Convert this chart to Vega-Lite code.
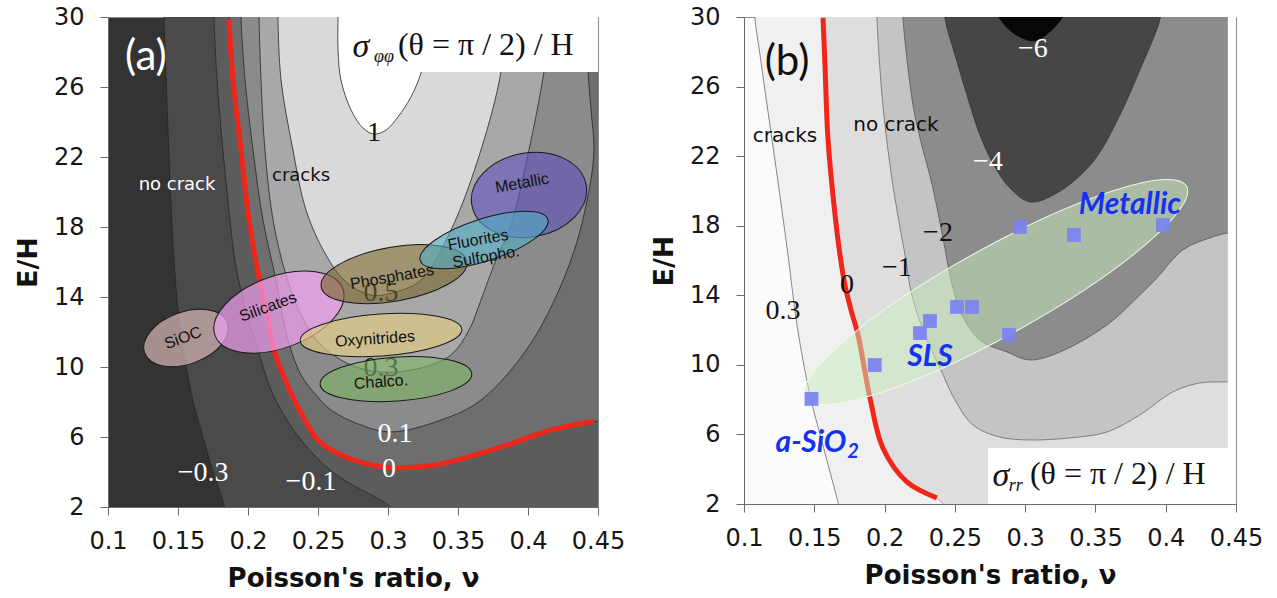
{
 "$schema": "https://vega.github.io/schema/vega-lite/v6.json",
 "background": "#ffffff",
 "padding": {"left": 13, "top": 4, "right": 8, "bottom": 4},
 "spacing": 23,
 "config": {
  "view": {"stroke": "#8a8a8a"},
  "axis": {"grid": false, "labelFont": "DejaVu Sans", "labelFontSize": 24, "labelColor": "#161616", "titleFont": "DejaVu Sans", "titleFontSize": 26, "titleFontWeight": "bold", "titleColor": "#111111", "domainColor": "#6a6a6a", "tickColor": "#6a6a6a", "tickSize": 8, "labelFlush": false, "labelOverlap": false},
  "axisX": {"labelPadding": 14, "titlePadding": 12},
  "axisY": {"labelPadding": 16, "titlePadding": 11, "titleFontSize": 27}
 },
 "datasets": {
  "a1": [{"x":0.14,"y":31},{"x":0.14,"y":29.94},{"x":0.1421,"y":25.26},{"x":0.1443,"y":20.69},{"x":0.1471,"y":16.11},{"x":0.1507,"y":12.69},{"x":0.1557,"y":10.11},{"x":0.1614,"y":7.83},{"x":0.1664,"y":6.4},{"x":0.1736,"y":4.4},{"x":0.1829,"y":2.11},{"x":0.185,"y":1.2},{"x":0.46,"y":1.2},{"x":0.46,"y":31}],
  "a2": [{"x":0.1757,"y":31},{"x":0.1757,"y":29.94},{"x":0.1779,"y":26.4},{"x":0.1821,"y":22.4},{"x":0.1864,"y":18.97},{"x":0.1914,"y":15.71},{"x":0.1986,"y":13.26},{"x":0.2071,"y":10.97},{"x":0.2186,"y":8.29},{"x":0.2379,"y":5.83},{"x":0.2614,"y":3.94},{"x":0.2971,"y":2.29},{"x":0.3057,"y":1.83},{"x":0.33,"y":1.2},{"x":0.46,"y":1.2},{"x":0.46,"y":31}],
  "a3": [{"x":0.1864,"y":31},{"x":0.1864,"y":29.94},{"x":0.1893,"y":26.4},{"x":0.195,"y":22.4},{"x":0.2007,"y":18.4},{"x":0.2064,"y":15.71},{"x":0.2129,"y":13.26},{"x":0.2186,"y":10.97},{"x":0.2236,"y":9.83},{"x":0.2307,"y":8.51},{"x":0.2379,"y":7.37},{"x":0.25,"y":5.83},{"x":0.2664,"y":4.97},{"x":0.2971,"y":4.29},{"x":0.3329,"y":4.4},{"x":0.3807,"y":5.43},{"x":0.4164,"y":6.4},{"x":0.45,"y":6.91},{"x":0.46,"y":6.95},{"x":0.46,"y":31}],
  "a4": [{"x":0.195,"y":31},{"x":0.195,"y":29.94},{"x":0.1979,"y":26.4},{"x":0.2036,"y":22.4},{"x":0.2107,"y":18.4},{"x":0.22,"y":14.97},{"x":0.2286,"y":11.54},{"x":0.2379,"y":9.54},{"x":0.2486,"y":8.4},{"x":0.2593,"y":7.54},{"x":0.2807,"y":6.69},{"x":0.3021,"y":6.29},{"x":0.3379,"y":6.97},{"x":0.3664,"y":8.11},{"x":0.4021,"y":11.37},{"x":0.4307,"y":16.11},{"x":0.4436,"y":20.11},{"x":0.4471,"y":22.4},{"x":0.445,"y":24.69},{"x":0.4429,"y":26.86},{"x":0.4414,"y":29.94},{"x":0.4414,"y":31}],
  "a5": [{"x":0.2079,"y":31},{"x":0.2079,"y":29.94},{"x":0.2093,"y":26.4},{"x":0.2121,"y":22.4},{"x":0.2179,"y":18.4},{"x":0.2271,"y":15.26},{"x":0.2379,"y":12.97},{"x":0.2521,"y":11.26},{"x":0.2736,"y":10.11},{"x":0.295,"y":9.71},{"x":0.3236,"y":9.94},{"x":0.345,"y":10.69},{"x":0.3579,"y":12.11},{"x":0.3664,"y":13.83},{"x":0.3771,"y":16.11},{"x":0.3879,"y":18.11},{"x":0.4007,"y":22.4},{"x":0.4114,"y":26.86},{"x":0.4164,"y":29.94},{"x":0.4164,"y":31}],
  "a6": [{"x":0.2214,"y":31},{"x":0.2214,"y":29.94},{"x":0.2236,"y":26.4},{"x":0.2321,"y":22.4},{"x":0.2414,"y":18.97},{"x":0.2557,"y":16.4},{"x":0.27,"y":14.86},{"x":0.2879,"y":14.11},{"x":0.3057,"y":14.29},{"x":0.3236,"y":14.97},{"x":0.345,"y":17.83},{"x":0.3664,"y":22.4},{"x":0.3807,"y":26.86},{"x":0.3843,"y":29.94},{"x":0.3843,"y":31}],
  "a7": [{"x":0.2643,"y":31},{"x":0.2643,"y":29.94},{"x":0.2643,"y":28.11},{"x":0.2664,"y":26.4},{"x":0.2736,"y":24.69},{"x":0.2821,"y":23.66},{"x":0.29,"y":23.31},{"x":0.2986,"y":23.54},{"x":0.3071,"y":24.29},{"x":0.3164,"y":25.43},{"x":0.3236,"y":26.8},{"x":0.3293,"y":28.69},{"x":0.3321,"y":29.94},{"x":0.3321,"y":31}],
  "aRed": [{"x":0.1864,"y":29.86},{"x":0.1893,"y":26.4},{"x":0.195,"y":22.4},{"x":0.2007,"y":18.4},{"x":0.2064,"y":15.71},{"x":0.2129,"y":13.26},{"x":0.2186,"y":10.97},{"x":0.2236,"y":9.83},{"x":0.2307,"y":8.51},{"x":0.2379,"y":7.37},{"x":0.25,"y":5.83},{"x":0.2664,"y":4.97},{"x":0.2971,"y":4.29},{"x":0.3329,"y":4.4},{"x":0.3807,"y":5.43},{"x":0.4164,"y":6.4},{"x":0.4471,"y":6.9}],
  "b1": [{"x":0.1078,"y":31},{"x":0.1078,"y":29.95},{"x":0.1114,"y":27.82},{"x":0.1164,"y":24.94},{"x":0.1235,"y":20.92},{"x":0.1313,"y":16.32},{"x":0.1377,"y":12.29},{"x":0.1469,"y":8.27},{"x":0.1555,"y":5.57},{"x":0.1661,"y":2.35},{"x":0.1683,"y":1.66},{"x":0.17,"y":1.2},{"x":0.46,"y":1.2},{"x":0.46,"y":31}],
  "b2": [{"x":0.1562,"y":31},{"x":0.1562,"y":29.95},{"x":0.1576,"y":27.24},{"x":0.1597,"y":23.05},{"x":0.164,"y":19.19},{"x":0.1683,"y":16.32},{"x":0.1718,"y":14.59},{"x":0.1761,"y":13.16},{"x":0.1811,"y":11.72},{"x":0.1896,"y":8.1},{"x":0.1988,"y":5.22},{"x":0.2159,"y":3.27},{"x":0.2372,"y":2.35},{"x":0.2465,"y":1.66},{"x":0.26,"y":1.2},{"x":0.46,"y":1.2},{"x":0.46,"y":31}],
  "b3": [{"x":0.1946,"y":31},{"x":0.1946,"y":29.95},{"x":0.1988,"y":24.94},{"x":0.2059,"y":20.34},{"x":0.2145,"y":16.32},{"x":0.2194,"y":14.02},{"x":0.2287,"y":11.72},{"x":0.2394,"y":9.82},{"x":0.2501,"y":7.98},{"x":0.2629,"y":6.54},{"x":0.2821,"y":5.85},{"x":0.3034,"y":5.68},{"x":0.3319,"y":5.8},{"x":0.3582,"y":6.14},{"x":0.3816,"y":7.12},{"x":0.405,"y":8.44},{"x":0.4242,"y":8.96},{"x":0.4442,"y":9.02},{"x":0.46,"y":9.02},{"x":0.46,"y":31}],
  "b4": [{"x":0.2131,"y":31},{"x":0.2131,"y":29.95},{"x":0.2202,"y":24.94},{"x":0.2252,"y":23.05},{"x":0.2344,"y":20.17},{"x":0.2415,"y":17.3},{"x":0.2486,"y":14.42},{"x":0.255,"y":12.87},{"x":0.2678,"y":11.43},{"x":0.287,"y":10.74},{"x":0.3034,"y":10.28},{"x":0.3247,"y":10.74},{"x":0.3582,"y":12.29},{"x":0.3816,"y":14.02},{"x":0.3937,"y":15.0},{"x":0.4122,"y":16.61},{"x":0.4314,"y":17.3},{"x":0.4442,"y":17.58},{"x":0.46,"y":17.6},{"x":0.46,"y":31}],
  "b5": [{"x":0.243,"y":31},{"x":0.243,"y":29.95},{"x":0.2501,"y":27.82},{"x":0.2586,"y":25.52},{"x":0.2678,"y":23.22},{"x":0.2785,"y":21.38},{"x":0.2892,"y":20.17},{"x":0.3034,"y":19.37},{"x":0.3226,"y":19.88},{"x":0.3482,"y":21.67},{"x":0.3674,"y":24.37},{"x":0.3816,"y":26.96},{"x":0.3958,"y":29.83},{"x":0.3975,"y":31}],
  "b6": [{"x":0.2799,"y":31},{"x":0.2799,"y":30.23},{"x":0.2842,"y":29.66},{"x":0.2906,"y":29.14},{"x":0.2977,"y":28.8},{"x":0.3048,"y":28.62},{"x":0.3119,"y":28.8},{"x":0.319,"y":29.26},{"x":0.3247,"y":29.77},{"x":0.3276,"y":30.23},{"x":0.3276,"y":31}],
  "bRed": [{"x":0.1562,"y":29.95},{"x":0.1576,"y":27.24},{"x":0.1597,"y":23.05},{"x":0.164,"y":19.19},{"x":0.1683,"y":16.32},{"x":0.1718,"y":14.59},{"x":0.1761,"y":13.16},{"x":0.1811,"y":11.72},{"x":0.1896,"y":8.1},{"x":0.1988,"y":5.22},{"x":0.2159,"y":3.27},{"x":0.2372,"y":2.35}],
  "bPts": [{"x":0.148,"y":8.04},{"x":0.193,"y":9.99},{"x":0.2252,"y":11.83},{"x":0.2323,"y":12.52},{"x":0.2515,"y":13.33},{"x":0.2622,"y":13.33},{"x":0.2885,"y":11.72},{"x":0.2963,"y":17.93},{"x":0.3347,"y":17.47},{"x":0.398,"y":18.04}]
 },
 "hconcat": [
  {
   "width": 490, "height": 490,
   "view": {"fill": "#333333", "stroke": "#8a8a8a"},
   "encoding": {
    "x": {"field": "x", "type": "quantitative", "scale": {"domain": [0.1, 0.45], "nice": false, "zero": false}, "axis": {"values": [0.1,0.15,0.2,0.25,0.3,0.35,0.4,0.45], "format": ".2~f", "title": "Poisson's ratio, ν"}},
    "y": {"field": "y", "type": "quantitative", "scale": {"domain": [2, 30], "nice": false, "zero": false}, "axis": {"values": [2,6,10,14,18,22,26,30], "title": "E/H"}}
   },
   "layer": [
    {"data": {"name": "a1"}, "mark": {"type": "line", "fill": "#4a4a4a", "stroke": "#262626", "strokeWidth": 0.8, "interpolate": "catmull-rom", "clip": true}, "encoding": {"order": {"value": null}}},
    {"data": {"name": "a2"}, "mark": {"type": "line", "fill": "#5c5c5c", "stroke": "#262626", "strokeWidth": 0.8, "interpolate": "catmull-rom", "clip": true}, "encoding": {"order": {"value": null}}},
    {"data": {"name": "a3"}, "mark": {"type": "line", "fill": "#6e6e6e", "stroke": "#262626", "strokeWidth": 0.8, "interpolate": "catmull-rom", "clip": true}, "encoding": {"order": {"value": null}}},
    {"data": {"name": "a4"}, "mark": {"type": "line", "fill": "#8b8b8b", "stroke": "#262626", "strokeWidth": 0.8, "interpolate": "catmull-rom", "clip": true}, "encoding": {"order": {"value": null}}},
    {"data": {"name": "a5"}, "mark": {"type": "line", "fill": "#a8a8a8", "stroke": "#262626", "strokeWidth": 0.8, "interpolate": "catmull-rom", "clip": true}, "encoding": {"order": {"value": null}}},
    {"data": {"name": "a6"}, "mark": {"type": "line", "fill": "#d9d9d9", "stroke": "#262626", "strokeWidth": 0.8, "interpolate": "catmull-rom", "clip": true}, "encoding": {"order": {"value": null}}},
    {"data": {"name": "a7"}, "mark": {"type": "line", "fill": "#ffffff", "stroke": "#262626", "strokeWidth": 0.8, "interpolate": "catmull-rom", "clip": true}, "encoding": {"order": {"value": null}}},
    {"data": {"name": "aRed"}, "mark": {"type": "line", "stroke": "#f0261a", "strokeWidth": 5, "interpolate": "catmull-rom", "clip": true}, "encoding": {"order": {"value": null}}},
    {"data": {"values": [{"x":0.305,"y":6.17,"t":"0.1"},{"x":0.3007,"y":4.17,"t":"0"},{"x":0.245,"y":3.43,"t":"−0.1"},{"x":0.1679,"y":3.94,"t":"−0.3"}]}, "mark": {"type": "text", "font": "Liberation Serif", "fontSize": 28, "fill": "#ffffff"}, "encoding": {"text": {"field": "t"}}},
    {"data": {"values": [{"x":0.29,"y":23.37,"t":"1"},{"x":0.295,"y":14.23,"t":"0.5"},{"x":0.295,"y":9.94,"t":"0.3"}]}, "mark": {"type": "text", "font": "Liberation Serif", "fontSize": 28, "fill": "#111111"}, "encoding": {"text": {"field": "t"}}},
    {"data": {"values": [{"x":0.1557,"y":11.66}]}, "mark": {"type": "point", "shape": "M-44,0A44,26,0,1,0,44,0A44,26,0,1,0,-44,0Z", "size": 4, "angle": 340, "filled": true, "fill": "#cfafaf", "fillOpacity": 0.75, "stroke": "#1a1a1a", "strokeWidth": 1, "opacity": 1}},
    {"data": {"values": [{"x":0.2221,"y":13.14}]}, "mark": {"type": "point", "shape": "M-68,0A68,36,0,1,0,68,0A68,36,0,1,0,-68,0Z", "size": 4, "angle": 340, "filled": true, "fill": "#f09ef0", "fillOpacity": 0.7, "stroke": "#1a1a1a", "strokeWidth": 1, "opacity": 1}},
    {"data": {"values": [{"x":0.3043,"y":15.31}]}, "mark": {"type": "point", "shape": "M-74,0A74,27,0,1,0,74,0A74,27,0,1,0,-74,0Z", "size": 4, "angle": 350, "filled": true, "fill": "#7a6428", "fillOpacity": 0.6, "stroke": "#1a1a1a", "strokeWidth": 1, "opacity": 1}},
    {"data": {"values": [{"x":0.295,"y":11.83}]}, "mark": {"type": "point", "shape": "M-81,0A81,21,0,1,0,81,0A81,21,0,1,0,-81,0Z", "size": 4, "angle": 356, "filled": true, "fill": "#e3ca80", "fillOpacity": 0.65, "stroke": "#1a1a1a", "strokeWidth": 1, "opacity": 1}},
    {"data": {"values": [{"x":0.3057,"y":9.31}]}, "mark": {"type": "point", "shape": "M-76,0A76,22,0,1,0,76,0A76,22,0,1,0,-76,0Z", "size": 4, "angle": 356, "filled": true, "fill": "#7fb764", "fillOpacity": 0.6, "stroke": "#1a1a1a", "strokeWidth": 1, "opacity": 1}},
    {"data": {"values": [{"x":0.4007,"y":19.83}]}, "mark": {"type": "point", "shape": "M-58,0A58,42,0,1,0,58,0A58,42,0,1,0,-58,0Z", "size": 4, "angle": 350, "filled": true, "fill": "#5f52bc", "fillOpacity": 0.6, "stroke": "#1a1a1a", "strokeWidth": 1, "opacity": 1}},
    {"data": {"values": [{"x":0.3686,"y":17.26}]}, "mark": {"type": "point", "shape": "M-67,0A67,21,0,1,0,67,0A67,21,0,1,0,-67,0Z", "size": 4, "angle": 342, "filled": true, "fill": "#52afca", "fillOpacity": 0.6, "stroke": "#1a1a1a", "strokeWidth": 1, "opacity": 1}},
    {"data": {"values": [{"x":0.2143,"y":13.43,"t":"Silicates"},{"x":0.1536,"y":11.66,"t":"SiOC"}]}, "mark": {"type": "text", "font": "Liberation Sans", "fontSize": 16, "fill": "#111111", "angle": 340}, "encoding": {"text": {"field": "t"}}},
    {"data": {"values": [{"x":0.3029,"y":15.14,"t":"Phosphates"},{"x":0.3643,"y":17.26,"t":"Fluorites"},{"x":0.37,"y":16.29,"t":"Sulfopho."},{"x":0.3957,"y":20.51,"t":"Metallic"}]}, "mark": {"type": "text", "font": "Liberation Sans", "fontSize": 16, "fill": "#111111", "angle": 350}, "encoding": {"text": {"field": "t"}}},
    {"data": {"values": [{"x":0.2907,"y":11.6,"t":"Oxynitrides"},{"x":0.295,"y":9.14,"t":"Chalco."}]}, "mark": {"type": "text", "font": "Liberation Sans", "fontSize": 16, "fill": "#111111", "angle": 356}, "encoding": {"text": {"field": "t"}}},
    {"data": {"values": [{"x":0.2664,"x2":0.45,"y":26.86,"y2":30}]}, "mark": {"type": "rect", "fill": "#ffffff"}, "encoding": {"x2": {"field": "x2"}, "y2": {"field": "y2"}}},
    {"data": {"values": [{"x":0.2807,"y":28.29,"t":"σ"}]}, "mark": {"type": "text", "font": "Liberation Serif", "fontStyle": "italic", "fontSize": 34, "fill": "#111111"}, "encoding": {"text": {"field": "t"}}},
    {"data": {"values": [{"x":0.2971,"y":27.71,"t":"φφ"}]}, "mark": {"type": "text", "font": "Liberation Serif", "fontStyle": "italic", "fontSize": 18, "fill": "#111111"}, "encoding": {"text": {"field": "t"}}},
    {"data": {"values": [{"x":0.3071,"y":28.4,"t":"(θ = π / 2) / H"}]}, "mark": {"type": "text", "font": "Liberation Serif", "fontSize": 32, "fill": "#111111", "align": "left"}, "encoding": {"text": {"field": "t"}}},
    {"data": {"values": [{"x":0.1271,"y":27.71,"t":"(a)"}]}, "mark": {"type": "text", "font": "Lato", "fontSize": 42, "fill": "#ffffff"}, "encoding": {"text": {"field": "t"}}},
    {"data": {"values": [{"x":0.1493,"y":20.4,"t":"no crack"}]}, "mark": {"type": "text", "font": "DejaVu Sans", "fontSize": 18, "fill": "#ffffff"}, "encoding": {"text": {"field": "t"}}},
    {"data": {"values": [{"x":0.2379,"y":20.91,"t":"cracks"}]}, "mark": {"type": "text", "font": "DejaVu Sans", "fontSize": 18, "fill": "#111111"}, "encoding": {"text": {"field": "t"}}}
   ]
  },
  {
   "width": 492, "height": 487,
   "view": {"fill": "#fbfbfb", "stroke": "#8a8a8a"},
   "encoding": {
    "x": {"field": "x", "type": "quantitative", "scale": {"domain": [0.1, 0.45], "nice": false, "zero": false}, "axis": {"values": [0.1,0.15,0.2,0.25,0.3,0.35,0.4,0.45], "format": ".2~f", "title": "Poisson's ratio, ν"}},
    "y": {"field": "y", "type": "quantitative", "scale": {"domain": [2, 30], "nice": false, "zero": false}, "axis": {"values": [2,6,10,14,18,22,26,30], "title": "E/H"}}
   },
   "layer": [
    {"data": {"name": "b1"}, "mark": {"type": "line", "fill": "#f0f0f0", "stroke": "#6a6a6a", "strokeWidth": 0.8, "interpolate": "catmull-rom", "clip": true}, "encoding": {"order": {"value": null}}},
    {"data": {"name": "b2"}, "mark": {"type": "line", "fill": "#dedede", "stroke": "#6a6a6a", "strokeWidth": 0.5, "interpolate": "catmull-rom", "clip": true}, "encoding": {"order": {"value": null}}},
    {"data": {"name": "b3"}, "mark": {"type": "line", "fill": "#c4c4c4", "stroke": "#6a6a6a", "strokeWidth": 0.8, "interpolate": "catmull-rom", "clip": true}, "encoding": {"order": {"value": null}}},
    {"data": {"name": "b4"}, "mark": {"type": "line", "fill": "#8c8c8c", "stroke": "#555555", "strokeWidth": 0.8, "interpolate": "catmull-rom", "clip": true}, "encoding": {"order": {"value": null}}},
    {"data": {"name": "b5"}, "mark": {"type": "line", "fill": "#464646", "stroke": "#333333", "strokeWidth": 0.8, "interpolate": "catmull-rom", "clip": true}, "encoding": {"order": {"value": null}}},
    {"data": {"name": "b6"}, "mark": {"type": "line", "fill": "#080808", "stroke": "#080808", "strokeWidth": 0.8, "interpolate": "catmull-rom", "clip": true}, "encoding": {"order": {"value": null}}},
    {"data": {"name": "bRed"}, "mark": {"type": "line", "stroke": "#f0261a", "strokeWidth": 5, "interpolate": "catmull-rom", "clip": true}, "encoding": {"order": {"value": null}}},
    {"data": {"values": [{"x":0.4442,"x2":0.45,"y":2,"y2":30},{"x":0.2735,"x2":0.45,"y":2,"y2":5.22}]}, "mark": {"type": "rect", "fill": "#ffffff"}, "encoding": {"x2": {"field": "x2"}, "y2": {"field": "y2"}}},
    {"data": {"values": [{"x":0.1277,"y":13.1,"t":"0.3"},{"x":0.1733,"y":14.59,"t":"0"},{"x":0.2088,"y":15.57,"t":"−1"},{"x":0.238,"y":17.58,"t":"−2"}]}, "mark": {"type": "text", "font": "Liberation Serif", "fontSize": 28, "fill": "#111111"}, "encoding": {"text": {"field": "t"}}},
    {"data": {"values": [{"x":0.2735,"y":21.67,"t":"−4"},{"x":0.3055,"y":28.16,"t":"−6"}]}, "mark": {"type": "text", "font": "Liberation Serif", "fontSize": 28, "fill": "#ffffff"}, "encoding": {"text": {"field": "t"}}},
    {"data": {"values": [{"x":0.2792,"y":14.19}]}, "mark": {"type": "point", "shape": "M-218,0A218,44,0,1,0,218,0A218,44,0,1,0,-218,0Z", "size": 4, "angle": 331, "filled": true, "fill": "#c8ecbc", "fillOpacity": 0.5, "stroke": "#eef8ea", "strokeWidth": 1, "opacity": 1}},
    {"data": {"name": "bPts"}, "mark": {"type": "square", "size": 190, "color": "#7b84f0", "opacity": 0.95}},
    {"data": {"values": [{"x":0.3745,"y":19.19,"t":"Metallic"},{"x":0.2323,"y":10.45,"t":"SLS"},{"x":0.1476,"y":5.51,"t":"a-SiO"}]}, "mark": {"type": "text", "font": "Lato", "fontSize": 30, "fontWeight": "bold", "fontStyle": "italic", "fill": "#1432f0"}, "encoding": {"text": {"field": "t"}}},
    {"data": {"values": [{"x":0.1775,"y":4.99,"t":"2"}]}, "mark": {"type": "text", "font": "Lato", "fontSize": 20, "fontWeight": "bold", "fontStyle": "italic", "fill": "#1432f0"}, "encoding": {"text": {"field": "t"}}},
    {"data": {"values": [{"x":0.2828,"y":3.61,"t":"σ"}]}, "mark": {"type": "text", "font": "Liberation Serif", "fontStyle": "italic", "fontSize": 34, "fill": "#111111"}, "encoding": {"text": {"field": "t"}}},
    {"data": {"values": [{"x":0.2934,"y":3.04,"t":"rr"}]}, "mark": {"type": "text", "font": "Liberation Serif", "fontStyle": "italic", "fontSize": 18, "fill": "#111111"}, "encoding": {"text": {"field": "t"}}},
    {"data": {"values": [{"x":0.3034,"y":3.73,"t":"(θ = π / 2) / H"}]}, "mark": {"type": "text", "font": "Liberation Serif", "fontSize": 32, "fill": "#111111", "align": "left"}, "encoding": {"text": {"field": "t"}}},
    {"data": {"values": [{"x":0.1306,"y":27.42,"t":"(b)"}]}, "mark": {"type": "text", "font": "Lato", "fontSize": 42, "fill": "#111111"}, "encoding": {"text": {"field": "t"}}},
    {"data": {"values": [{"x":0.1292,"y":23.16,"t":"cracks"},{"x":0.2081,"y":23.79,"t":"no crack"}]}, "mark": {"type": "text", "font": "DejaVu Sans", "fontSize": 20, "fill": "#111111"}, "encoding": {"text": {"field": "t"}}}
   ]
  }
 ]
}
